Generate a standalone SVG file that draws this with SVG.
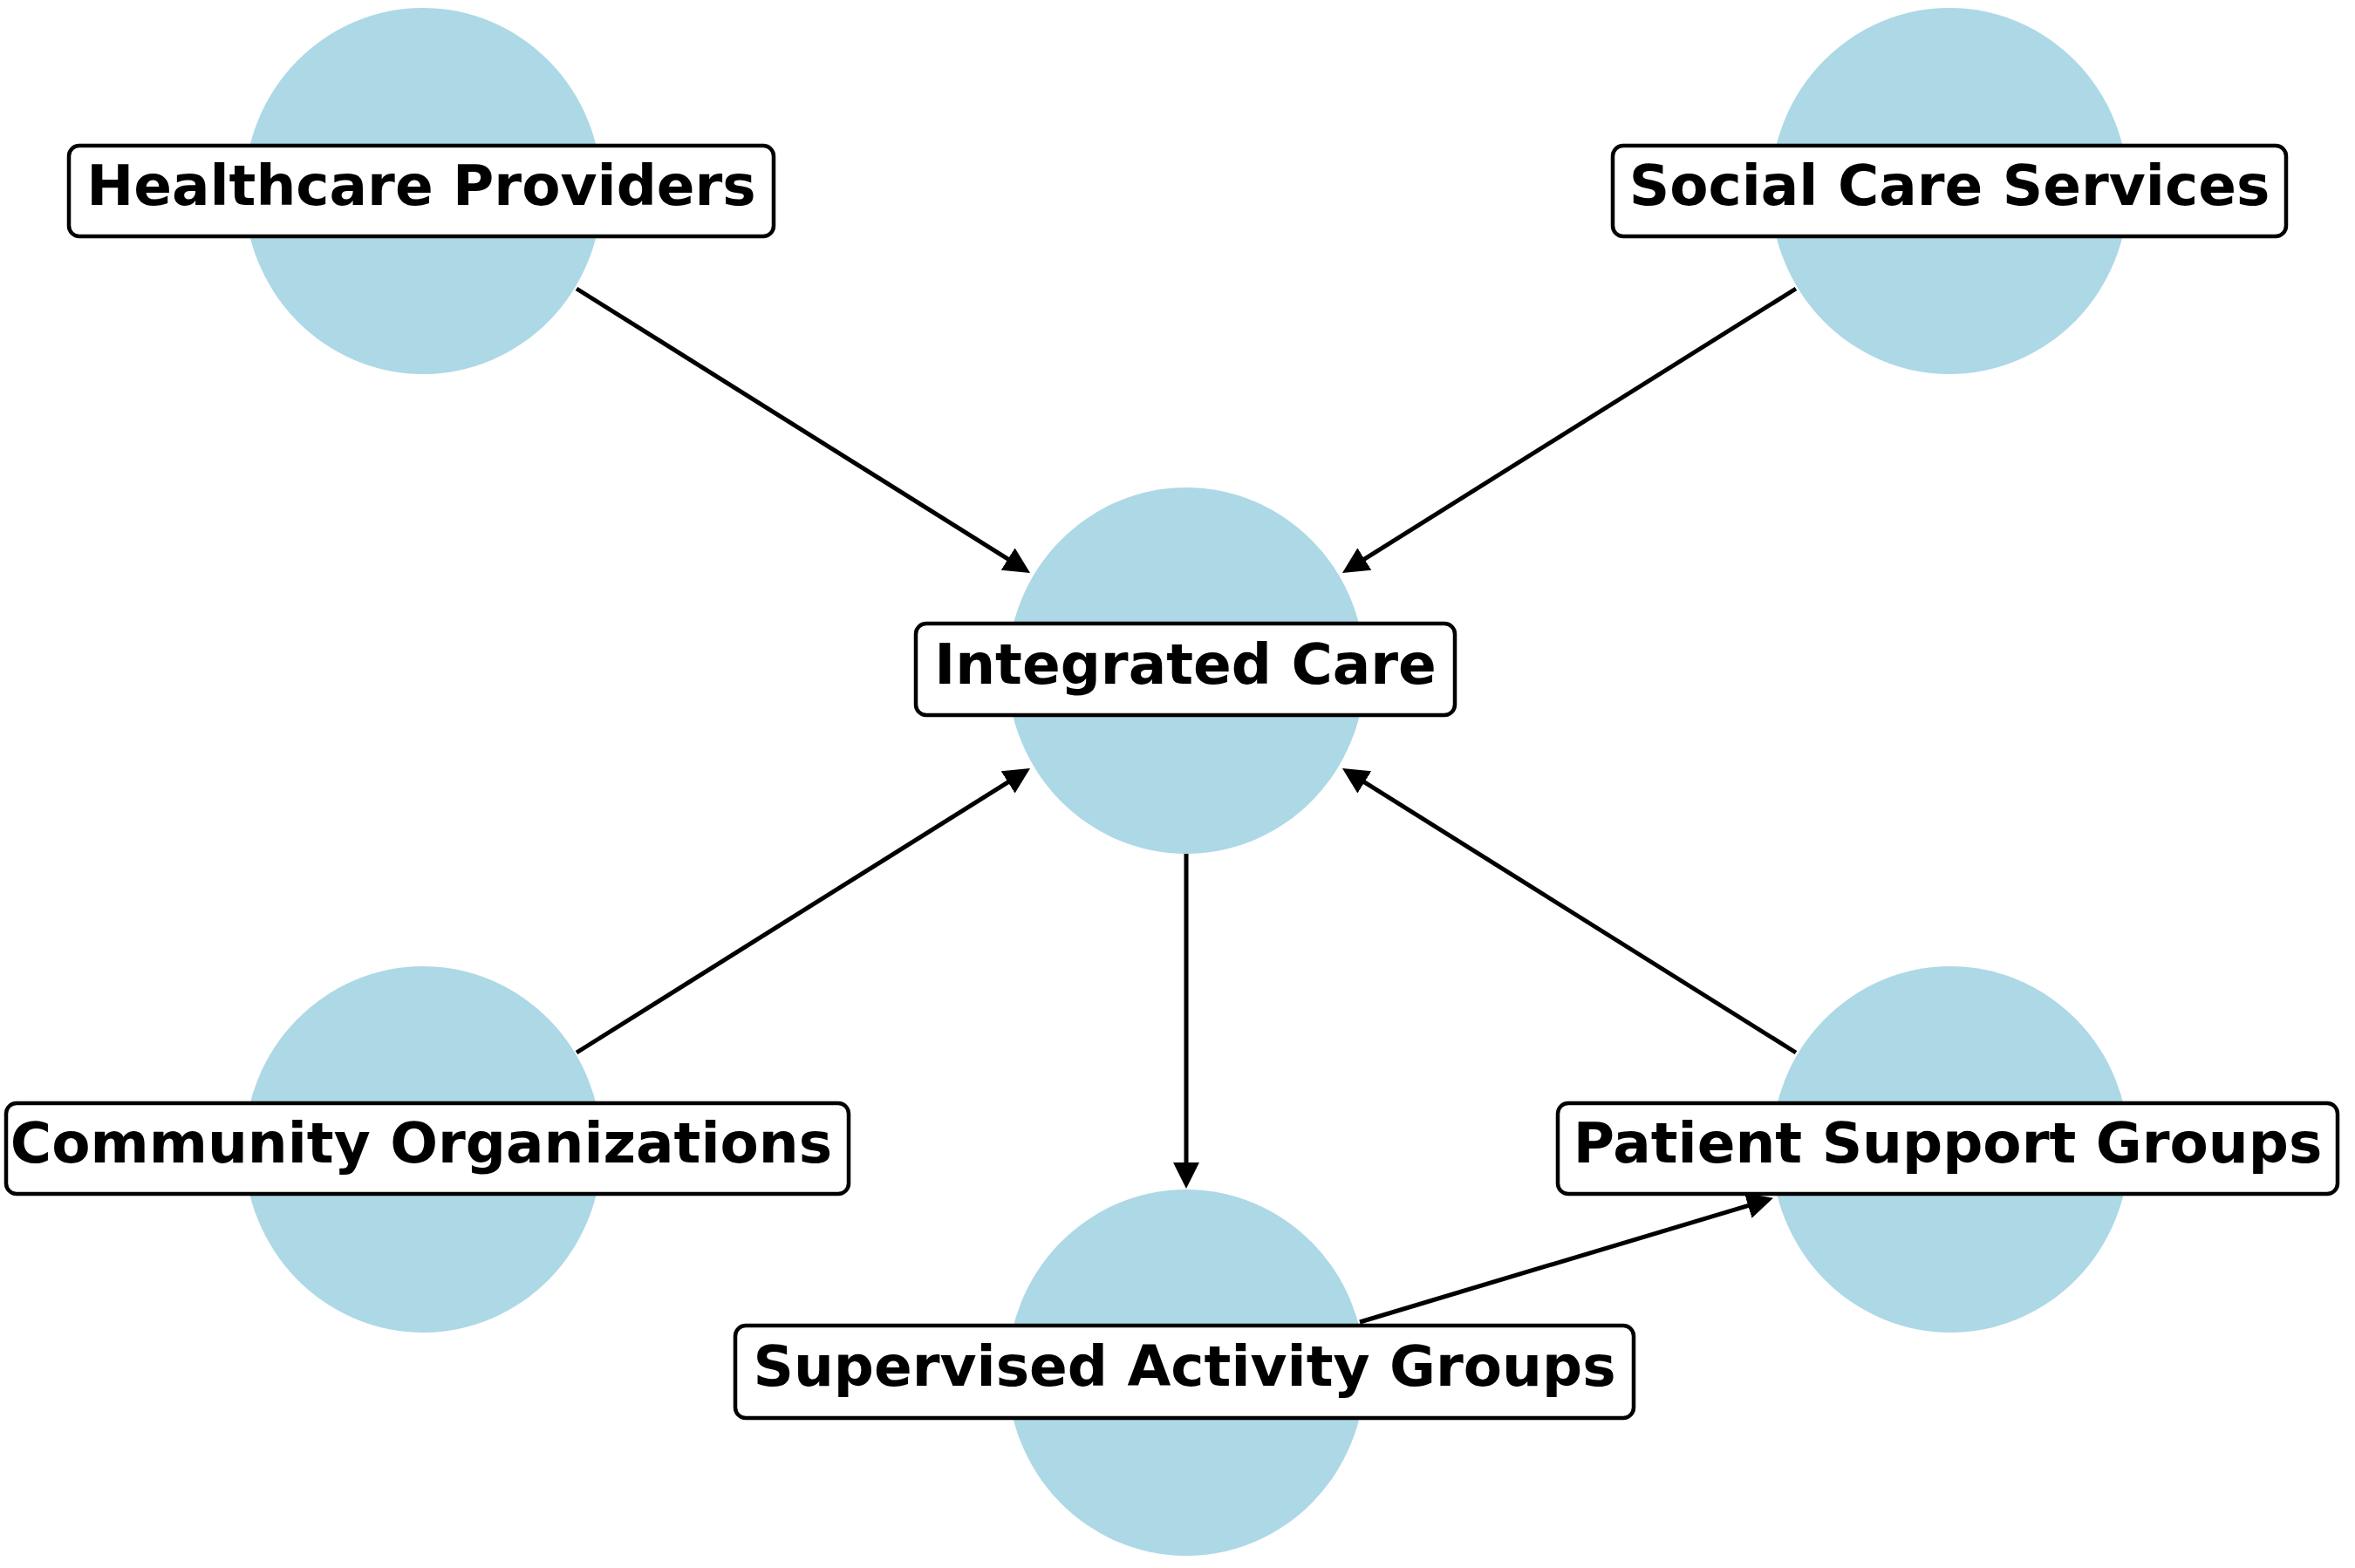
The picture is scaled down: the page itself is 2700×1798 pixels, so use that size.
<svg xmlns="http://www.w3.org/2000/svg" width="2700" height="1798" viewBox="0 0 2700 1798">
<defs>
<style>
.circ{fill:#ADD8E6;stroke:none}
.box{fill:#ffffff;stroke:#000000;stroke-width:4.5}
.lbl{font-family:"DejaVu Sans","Liberation Sans",sans-serif;font-weight:bold;font-size:64.5px;fill:#000000;text-anchor:middle}
.edge{stroke:#000000;stroke-width:5;fill:none;marker-end:url(#arr)}
</style>
<marker id="arr" viewBox="0 0 30 30" refX="10" refY="15" markerWidth="30" markerHeight="30" markerUnits="userSpaceOnUse" orient="auto">
<path d="M0,0 L30,15 L0,30 z" fill="#000000"/>
</marker>
</defs>
<rect width="2700" height="1798" fill="#ffffff"/>
<g id="connectors">
<line class="edge" x1="661" y1="331" x2="1164.1" y2="646.4"/>
<line class="edge" x1="2059" y1="331" x2="1555.9" y2="646.4"/>
<line class="edge" x1="661" y1="1207" x2="1164.1" y2="891.6"/>
<line class="edge" x1="2059" y1="1207" x2="1555.9" y2="891.6"/>
<line class="edge" x1="1360" y1="979" x2="1360" y2="1343"/>
<line class="edge" x1="1559" y1="1516" x2="2013.8" y2="1379.6"/>
</g>
<g id="node-healthcare">
<ellipse class="circ" cx="485" cy="219" rx="205" ry="210"/>
<rect class="box" x="79" y="167" width="808" height="104" rx="12"/>
<text class="lbl" x="483" y="235">Healthcare Providers</text>
</g>
<g id="node-social">
<ellipse class="circ" cx="2235" cy="219" rx="205" ry="210"/>
<rect class="box" x="1849" y="167" width="772" height="104" rx="12"/>
<text class="lbl" x="2235" y="235">Social Care Services</text>
</g>
<g id="node-integrated">
<ellipse class="circ" cx="1360" cy="769" rx="205" ry="210"/>
<rect class="box" x="1050" y="715" width="618" height="105" rx="12"/>
<text class="lbl" x="1359" y="784">Integrated Care</text>
</g>
<g id="node-community">
<ellipse class="circ" cx="485" cy="1318" rx="205" ry="210"/>
<rect class="box" x="7" y="1265" width="966" height="104" rx="12"/>
<text class="lbl" x="483" y="1333">Community Organizations</text>
</g>
<g id="node-patient">
<ellipse class="circ" cx="2236" cy="1318" rx="205" ry="210"/>
<rect class="box" x="1786" y="1265" width="894" height="104" rx="12"/>
<text class="lbl" x="2233" y="1333">Patient Support Groups</text>
</g>
<g id="node-supervised">
<ellipse class="circ" cx="1360" cy="1574" rx="205" ry="210"/>
<rect class="box" x="843" y="1520" width="1030" height="106" rx="12"/>
<text class="lbl" x="1358" y="1589">Supervised Activity Groups</text>
</g>
</svg>
